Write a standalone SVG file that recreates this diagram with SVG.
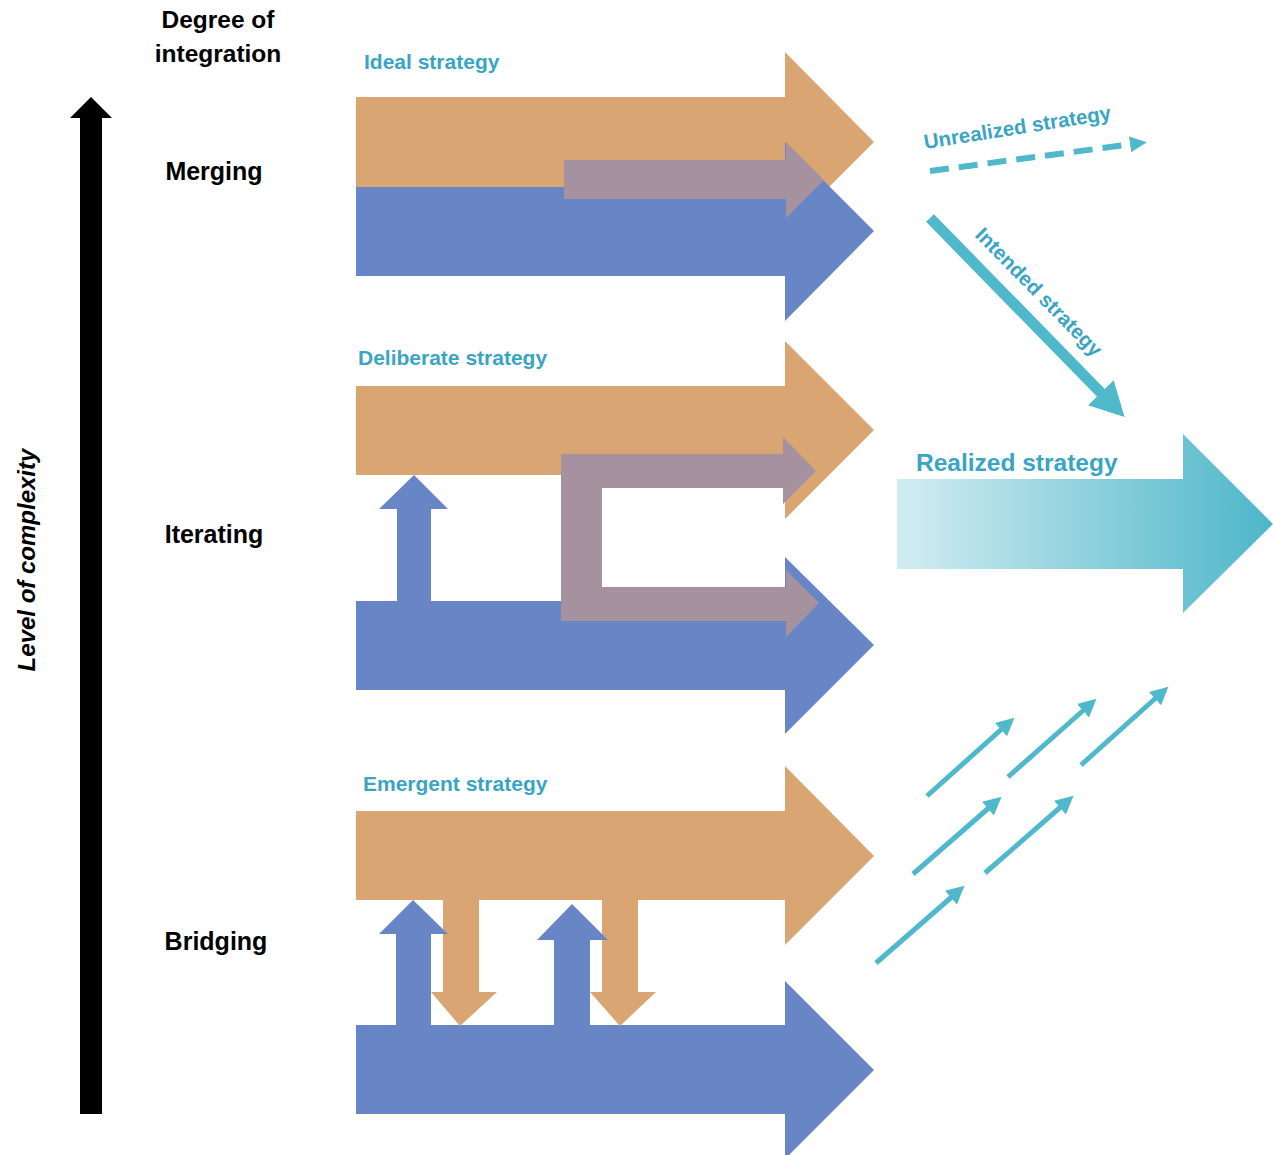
<svg xmlns="http://www.w3.org/2000/svg" width="1273" height="1155" viewBox="0 0 1273 1155">
<style>
.or{fill:#d9a673}
.bl{fill:#6886c5}
.pu{fill:#a6929e}
.lbl{font-family:"Liberation Sans",Arial,sans-serif;font-weight:bold;font-size:24px;fill:#000}
.tl{font-family:"Liberation Sans",Arial,sans-serif;font-weight:bold;font-size:21px;fill:#3aa5c3}
.ln{stroke:#4fb9cb;fill:none}
</style>
<defs>
<linearGradient id="rg" x1="0" y1="0" x2="1" y2="0">
<stop offset="0" stop-color="#d3edf2"/>
<stop offset="1" stop-color="#4db6c9"/>
</linearGradient>
<marker id="ms" markerUnits="userSpaceOnUse" markerWidth="20" markerHeight="20" refX="4" refY="9" orient="auto"><path d="M0,0 L18,9 L0,18 z" fill="#4fb9cb"/></marker>
<marker id="md" markerUnits="userSpaceOnUse" markerWidth="20" markerHeight="20" refX="3" refY="8" orient="auto"><path d="M0,0 L17,8 L0,16 z" fill="#4fb9cb"/></marker>
<marker id="mb" markerUnits="userSpaceOnUse" markerWidth="40" markerHeight="40" refX="6" refY="18" orient="auto"><path d="M0,0 L34,18 L0,36 z" fill="#4fb9cb"/></marker>
</defs>
<rect width="1273" height="1155" fill="#fff"/>

<g id="complexity-axis">
<polygon points="80,1114 80,118 70,118 91,97 112,118 102,118 102,1114" fill="#000"/>
<text transform="translate(35,560) rotate(-90)" text-anchor="middle" style="font-family:'Liberation Sans',Arial,sans-serif;font-weight:bold;font-style:italic;font-size:24px">Level of complexity</text>
</g>

<g id="header">
<text class="lbl" x="218" y="28" text-anchor="middle" style="font-size:24.5px">Degree of</text>
<text class="lbl" x="218" y="62" text-anchor="middle" style="font-size:24.5px">integration</text>
</g>

<g id="merging">
<text class="lbl" x="214" y="180" text-anchor="middle" style="font-size:25px">Merging</text>
<text class="tl" x="364" y="69">Ideal strategy</text>
<polygon class="or" points="356,97 785,97 785,52 874,142 785,231 785,187 356,187"/>
<polygon class="bl" points="356,187 785,187 785,142 874,231 785,321 785,276 356,276"/>
<polygon class="pu" points="564,160 786,160 786,142 824,180 786,218 786,199 564,199"/>
</g>

<g id="iterating">
<text class="lbl" x="214" y="543" text-anchor="middle" style="font-size:25px">Iterating</text>
<text class="tl" x="358" y="365">Deliberate strategy</text>
<polygon class="or" points="356,386 785,386 785,341 874,430 785,519 785,475 356,475"/>
<polygon class="bl" points="356,601 785,601 785,557 874,645 785,734 785,690 356,690"/>
<polygon class="bl" points="397,601 397,509 379,509 414,475 448,509 431,509 431,601"/>
<polygon class="pu" points="561,454 783,454 783,437 816,471 783,504 783,488 602,488 602,587 786,587 786,570 819,603 786,637 786,621 561,621"/>
</g>

<g id="bridging">
<text class="lbl" x="216" y="950" text-anchor="middle" style="font-size:25px">Bridging</text>
<text class="tl" x="363" y="791">Emergent strategy</text>
<polygon class="or" points="356,811 785,811 785,766 874,856 785,945 785,900 356,900"/>
<polygon class="bl" points="356,1025 785,1025 785,981 874,1070 785,1159 785,1114 356,1114"/>
<polygon class="or" points="443,900 479,900 479,992 497,992 460,1026 431,992 443,992"/>
<polygon class="or" points="602,900 638,900 638,992 656,992 620,1026 590,992 602,992"/>
<polygon class="bl" points="396,1025 396,934 379,934 413,900 448,934 431,934 431,1025"/>
<polygon class="bl" points="554,1025 554,940 537,940 572,904 608,940 590,940 590,1025"/>
</g>

<g id="realized">
<polygon points="897,479 1183,479 1183,434 1273,524 1183,613 1183,569 897,569" fill="url(#rg)"/>
<text class="tl" x="916" y="471" style="font-size:24.5px">Realized strategy</text>
</g>

<g id="connectors">
<line class="ln" x1="930" y1="171" x2="1133" y2="144" stroke-width="6" stroke-dasharray="19 10" marker-end="url(#md)"/>
<text class="tl" transform="translate(925,149) rotate(-9)" style="font-size:20.5px">Unrealized strategy</text>
<line class="ln" x1="930" y1="218" x2="1105" y2="397" stroke-width="11" marker-end="url(#mb)"/>
<text class="tl" transform="translate(974,236) rotate(45.5)" style="font-size:20.5px">Intended strategy</text>
<line class="ln" x1="927" y1="796" x2="1004" y2="727" stroke-width="5" marker-end="url(#ms)"/>
<line class="ln" x1="1008" y1="777" x2="1086" y2="708" stroke-width="5" marker-end="url(#ms)"/>
<line class="ln" x1="1081" y1="765" x2="1158" y2="696" stroke-width="5" marker-end="url(#ms)"/>
<line class="ln" x1="913" y1="874" x2="991" y2="806" stroke-width="5" marker-end="url(#ms)"/>
<line class="ln" x1="985" y1="873" x2="1063" y2="805" stroke-width="5" marker-end="url(#ms)"/>
<line class="ln" x1="876" y1="963" x2="954" y2="895" stroke-width="5" marker-end="url(#ms)"/>
</g>
</svg>
